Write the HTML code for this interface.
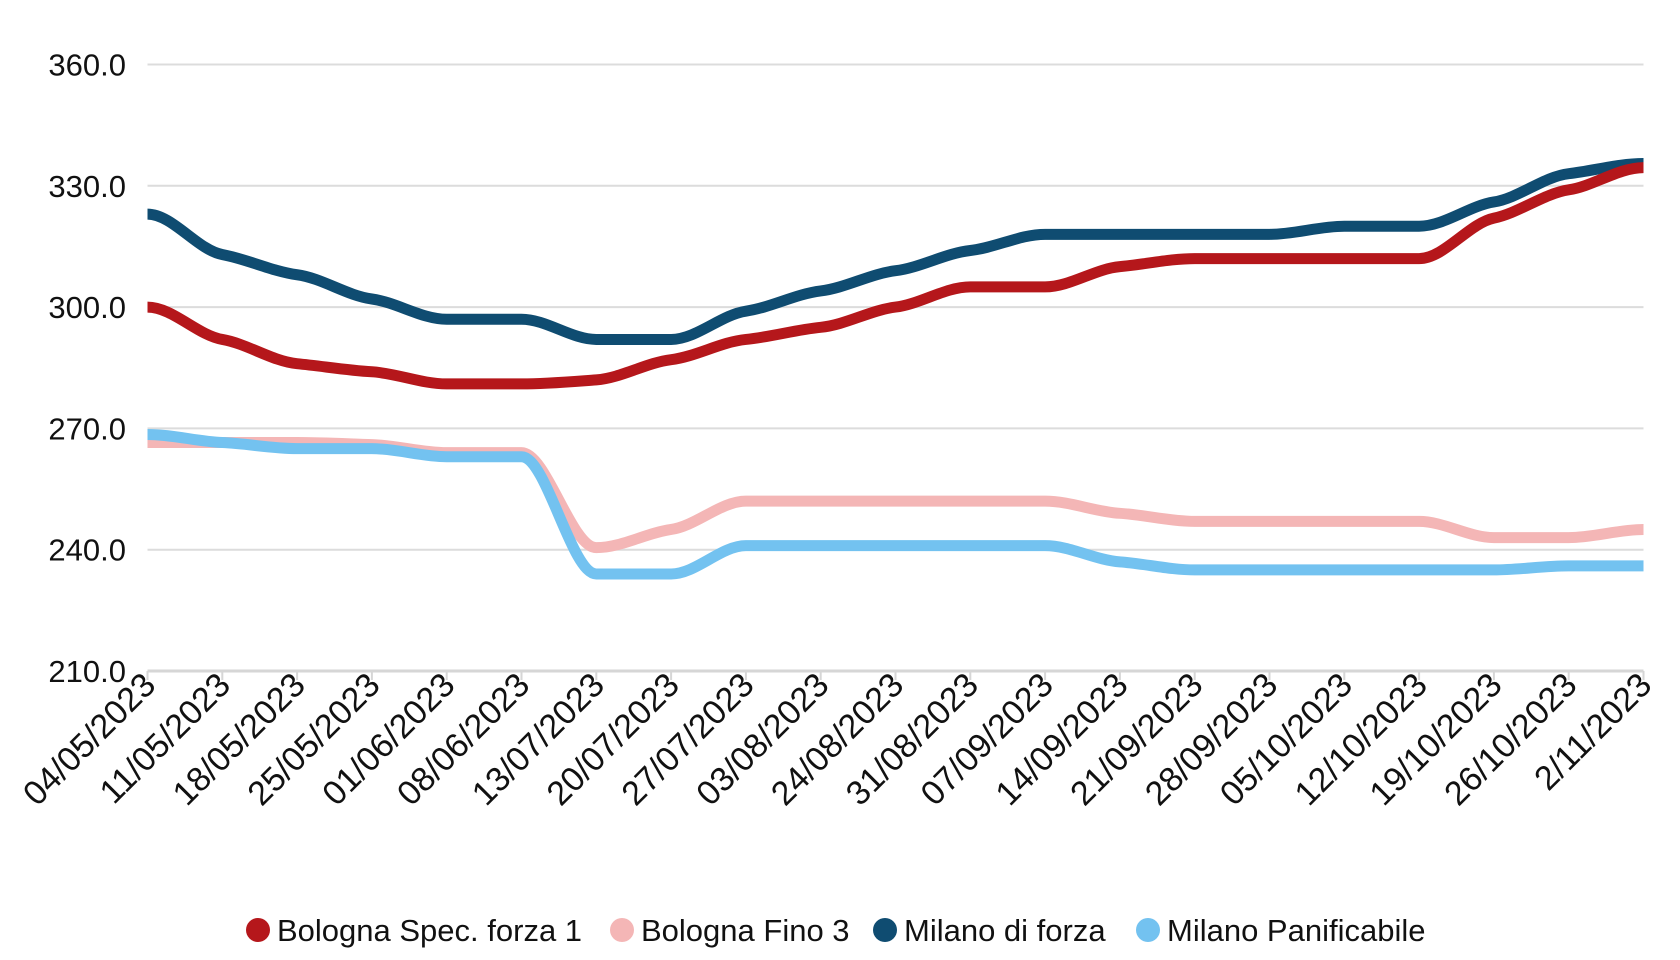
<!DOCTYPE html>
<html><head><meta charset="utf-8"><style>
html,body{margin:0;padding:0;background:#fff;width:1680px;height:960px;overflow:hidden}
svg text{font-family:"Liberation Sans",sans-serif;fill:#111}
</style></head><body>
<svg id="c" width="1680" height="960" xmlns="http://www.w3.org/2000/svg"></svg>
<script>
const svg=document.getElementById('c');
const L=147.5,R=1643.5,Y0=671,Ymin=210,per=121.3/30;
const y=v=>Y0-(v-Ymin)*per;
const step=(R-L)/20;
const x=i=>L+i*step;
let h='';
[210,240,270,300,330,360].forEach(v=>{
 h+=`<line x1="${L}" x2="${R}" y1="${y(v)}" y2="${y(v)}" stroke="${v==210?'#d6d6d6':'#dcdcdc'}" stroke-width="${v==210?3:2}"/>`;
 h+=`<text x="126" y="${y(v)+11}" font-size="31" text-anchor="end">${v.toFixed(1)}</text>`;
});
const labs=["04/05/2023","11/05/2023","18/05/2023","25/05/2023","01/06/2023","08/06/2023","13/07/2023","20/07/2023","27/07/2023","03/08/2023","24/08/2023","31/08/2023","07/09/2023","14/09/2023","21/09/2023","28/09/2023","05/10/2023","12/10/2023","19/10/2023","26/10/2023","2/11/2023"];
labs.forEach((t,i)=>{
 h+=`<line x1="${x(i)}" x2="${x(i)}" y1="${Y0}" y2="${Y0+9}" stroke="#d6d6d6" stroke-width="2"/>`;
 h+=`<text transform="translate(${x(i)+10},${Y0+16}) rotate(-45)" font-size="34" text-anchor="end">${t}</text>`;
});
function path(d){
 const n=d.length,m=[],dk=[];
 for(let i=0;i<n-1;i++)dk.push(d[i+1]-d[i]);
 for(let i=0;i<n;i++){
  if(i==0||i==n-1)m.push(0);
  else m.push(dk[i-1]*dk[i]<=0?0:0.45*(dk[i-1]+dk[i])/2);
 }
 let p=`M${x(0)},${y(d[0])}`;
 for(let i=0;i<n-1;i++){
  const x0=x(i),x1=x(i+1);
  p+=` C${x0+step/3},${y(d[i]+m[i]/3)} ${x1-step/3},${y(d[i+1]-m[i+1]/3)} ${x1},${y(d[i+1])}`;
 }
 return p;
}
const S=[
 ["#0f4c71",[323,313,308,302,297,297,292,292,299,304,309,314,318,318,318,318,320,320,326,333,335.5]],
 ["#b5171b",[300,292,286,284,281,281,282,287,292,295,300,305,305,310,312,312,312,312,322,329,334.5]],
 ["#f4b6b6",[266.5,266.5,266.5,266,264,264,240.5,245,252,252,252,252,252,249,247,247,247,247,243,243,245]],
 ["#73c2f0",[268.5,266.5,265,265,263,263,234,234,241,241,241,241,241,237,235,235,235,235,235,236,236]]
];
S.forEach(s=>{h+=`<path d="${path(s[1])}" fill="none" stroke="${s[0]}" stroke-width="11" stroke-linejoin="round"/>`;});
const leg=[["#b5171b","Bologna Spec. forza 1",258],["#f4b6b6","Bologna Fino 3",622],["#0f4c71","Milano di forza",885],["#73c2f0","Milano Panificabile",1148]];
leg.forEach(l=>{
 h+=`<circle cx="${l[2]}" cy="930" r="12" fill="${l[0]}"/>`;
 h+=`<text x="${l[2]+19}" y="941" font-size="31">${l[1]}</text>`;
});
svg.innerHTML=h;
</script>
</body></html>
